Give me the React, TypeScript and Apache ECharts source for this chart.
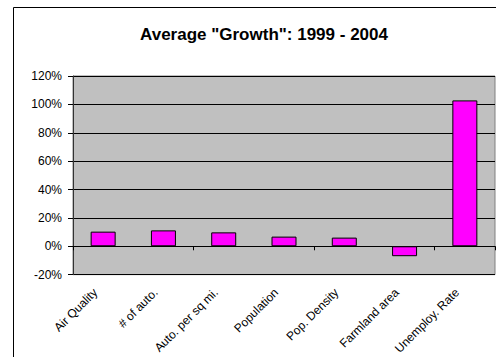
import React, { useEffect, useRef } from "react";
import * as echarts from "echarts";

const categories = ["Air Quality", "# of auto.", "Auto. per sq mi.", "Population", "Pop. Density", "Farmland area", "Unemploy. Rate"];
const growth = [10.3, 11.2, 9.8, 6.8, 6.1, -7.0, 102.8];
const yTicks = { min: -20, max: 120, interval: 20 };

export default function App() {
  const ref = useRef<HTMLDivElement>(null);
  useEffect(() => {
    const chart = echarts.init(ref.current!, null, { renderer: "svg" });
    const font = "'Liberation Sans', Arial, sans-serif";
    chart.setOption({
      animation: false,
      backgroundColor: "#ffffff",
      textStyle: { fontFamily: font },
      title: {
        text: 'Average "Growth": 1999 - 2004',
        left: 259,
        textAlign: "center",
        top: 21,
        textStyle: { fontFamily: font, fontSize: 17, fontWeight: "bold", color: "#000" },
      },
      graphic: [
        {
          type: "rect",
          shape: { x: 13.5, y: 7.5, width: 500, height: 400 },
          style: { fill: "none", stroke: "#000", lineWidth: 1 },
          silent: true,
        },
      ],
      grid: {
        left: 73,
        top: 76,
        width: 422,
        height: 200,
        show: true,
        backgroundColor: "#C0C0C0",
        borderColor: "#808080",
        borderWidth: 1,
        containLabel: false,
      },
      xAxis: [
        {
          type: "category",
          data: categories,
          axisLine: { show: false, onZero: false },
          axisTick: { show: false },
          axisLabel: { rotate: 45, margin: 8, fontSize: 12, color: "#000", fontFamily: font, interval: 0, padding: [0, 11, 0, 0] },
        },
        {
          type: "category",
          data: categories,
          position: "bottom",
          axisLine: { show: true, onZero: true, lineStyle: { color: "#000", width: 1 } },
          axisTick: { show: true, length: 4, lineStyle: { color: "#000" } },
          axisLabel: { show: false },
        },
      ],
      yAxis: {
        type: "value",
        min: yTicks.min,
        max: yTicks.max,
        interval: yTicks.interval,
        axisLine: { show: true, lineStyle: { color: "#333", width: 1 } },
        axisTick: { show: true, length: 5, lineStyle: { color: "#000" } },
        axisLabel: { formatter: "{value}%", fontSize: 12, color: "#000", margin: 11, fontFamily: font },
        splitLine: { show: true, lineStyle: { color: "#000", width: 1 } },
      },
      series: [
        {
          type: "bar",
          data: growth,
          xAxisIndex: 0,
          barWidth: 25,
          itemStyle: { color: "#FF00FF", borderColor: "#000", borderWidth: 1 },
        },
      ],
    });
    return () => chart.dispose();
  }, []);
  return <div ref={ref} style={{ width: 496, height: 357, position: "absolute", left: 0, top: 0 }} />;
}
